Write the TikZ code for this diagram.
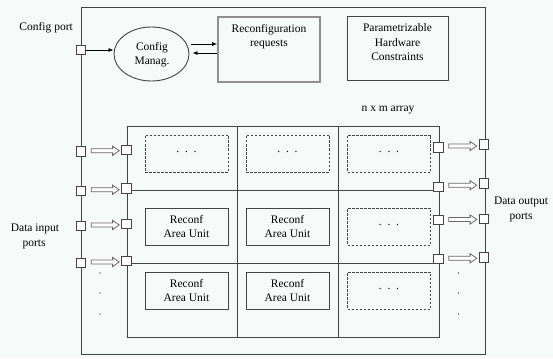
\documentclass[tikz,border=0pt]{standalone}
\usepackage{fontspec}
\setmainfont{Liberation Serif}
\usetikzlibrary{shapes.geometric,shapes.arrows,arrows.meta,calc}
\definecolor{bg}{HTML}{F6FAF8}
\definecolor{ln}{HTML}{444444}
\begin{document}
\begin{tikzpicture}[x=1pt,y=-1pt,
  font=\fontsize{11.5}{14.5}\selectfont,
  port/.style={draw=ln,fill=white,line width=0.9pt,minimum size=9.5pt,inner sep=0pt},
  harrow/.style={single arrow,draw=ln!80,fill=white,line width=0.8pt,inner sep=1.6pt,
    single arrow head extend=2.6pt,single arrow tip angle=70,minimum height=28pt},
  box/.style={draw=ln,line width=0.9pt,inner sep=0pt},
  dbox/.style={draw=ln,line width=0.9pt,dashed,dash pattern=on 2.5pt off 1.5pt,inner sep=0pt,
    minimum width=83pt,minimum height=37pt},
  ubox/.style={draw=ln,line width=1pt,inner sep=0pt,minimum width=83pt,minimum height=37pt,align=center},
  arr/.style={draw=black,line width=0.8pt,-{Latex[length=5pt,width=4pt]}},
  lbl/.style={align=center,inner sep=0pt}]
\fill[bg] (0,0) rectangle (553,358);
\useasboundingbox (0,0) rectangle (553,358);
% outer frame
\draw[ln,line width=0.9pt] (81,7) rectangle (485,354);
% grid
\draw[ln,line width=0.9pt] (127,126) rectangle (439,337);
\draw[ln,line width=0.9pt] (237,126) -- (237,337) (338,126) -- (338,337);
\draw[ln,line width=0.9pt] (127,190) -- (439,190) (127,263) -- (439,263);
% top part
\node[port] (cp) at (81,50) {};
\node[lbl,anchor=east] at (73,28) {Config port};
\node[ellipse,draw=ln,line width=0.9pt,minimum width=75pt,minimum height=54pt,inner sep=0pt] (cm) at (151.5,54) {};
\node[lbl] at (152,54.5) {Config\\Manag.};
\node[box,draw=ln!60,line width=1.6pt,minimum width=102pt,minimum height=65pt] (rr) at (269,49.5) {};
\node[lbl,anchor=north] at ([yshift=-8pt]rr.north) {Reconfiguration\\requests};
\node[box,minimum width=101pt,minimum height=64pt] (pp) at (397.5,48) {};
\node[lbl] at (397.5,42.5) {Parametrizable\\Hardware\\Constraints};
\node[lbl] at (388,110) {n x m array};
\draw[arr] (cp.east) -- (cp -| cm.west);
\coordinate (ua) at (0,44);
\coordinate (la) at (0,53);
\draw[arr] ([xshift=2pt]cm.east |- ua) -- (rr.west |- ua);
\draw[arr] (rr.west |- la) -- ([xshift=3pt]cm.east |- la);
% cells
\foreach \c/\x in {1/186.5,2/287.5,3/389}{
  \node[dbox] (d1\c) at (\x,153.5) {};
  \node[lbl] at (\x,152) {.\,\,\,.\,\,\,.};
}
\node[ubox] (u21) at (186.5,226.5) {Reconf\\Area Unit};
\node[ubox] (u22) at (287.5,226.5) {Reconf\\Area Unit};
\node[dbox] (d23) at (389,226.5) {};
\node[lbl] at (389,225) {.\,\,\,.\,\,\,.};
\node[ubox] (u31) at (186.5,290.5) {Reconf\\Area Unit};
\node[ubox] (u32) at (287.5,290.5) {Reconf\\Area Unit};
\node[dbox] (d33) at (389,290.5) {};
\node[lbl] at (389,289) {.\,\,\,.\,\,\,.};
% ports and hollow arrows, left
\foreach \i/\yo/\yi in {1/151.5/150,2/191/188.5,3/226/224,4/263/261}{
  \node[port] (lo\i) at (81,\yo) {};
  \node[port] (li\i) at (126.5,\yi) {};
  \node[harrow] at ($(lo\i.east)!0.5!(li\i.west)$) {};
}
% ports and hollow arrows, right
\foreach \i/\yi/\yo in {1/147.5/144.5,2/187/183.5,3/220/219,4/259/257.5}{
  \node[port] (ri\i) at (438.5,\yi) {};
  \node[port] (ro\i) at (484,\yo) {};
  \node[harrow] at ($(ri\i.east)!0.5!(ro\i.west)$) {};
}
% dots
\foreach \y in {273,293,314}{
  \fill[black] (100,\y) circle (0.7pt);
  \fill[black] (458.5,\y) circle (0.7pt);
}
\node[lbl] at (35,229) {Data input};
\node[lbl] at (34,244) {ports};
\node[lbl] at (521,202) {Data output};
\node[lbl] at (521,217) {ports};
\end{tikzpicture}
\end{document}
